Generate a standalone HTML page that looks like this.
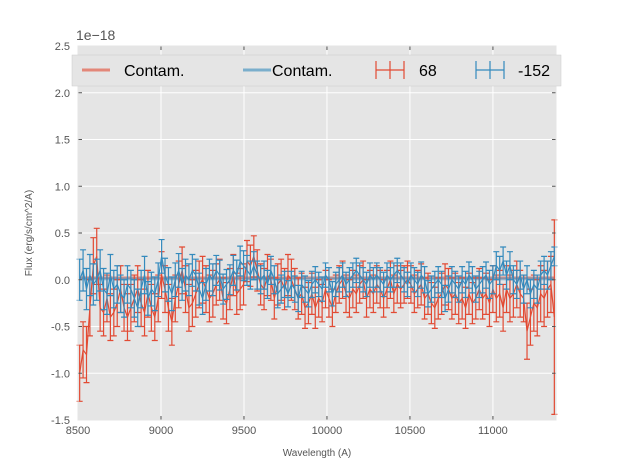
<!DOCTYPE html>
<html><head><meta charset="utf-8"><style>
body{margin:0;background:#fff;width:617px;height:467px;overflow:hidden;font-family:"Liberation Sans",sans-serif}
</style></head><body>
<svg id="chart" width="617" height="467" xmlns="http://www.w3.org/2000/svg">
<rect x="78" y="46" width="478" height="374" fill="#e5e5e5"/>
<g id="grid"></g><g id="series"></g><g id="axes"></g>
<text x="76" y="40" font-size="14" fill="#555">1e−18</text>
<text x="317" y="456" font-size="10" fill="#555" text-anchor="middle">Wavelength (A)</text>
<text transform="translate(32,233) rotate(-90)" font-size="10" fill="#555" text-anchor="middle">Flux (erg/s/cm^2/A)</text>
<g>
<rect x="72" y="55" width="489" height="31" fill="#e5e5e5" stroke="#ccc" stroke-width="0.5"/>
<g><line x1="82" y1="70" x2="110" y2="70" stroke="#E24A33" stroke-width="3" opacity="0.6"/><text x="124" y="76" font-size="16" fill="#000">Contam.</text></g>
<g><line x1="243" y1="70" x2="271" y2="70" stroke="#348ABD" stroke-width="3" opacity="0.6"/><text x="272" y="76" font-size="16" fill="#000">Contam.</text></g>
<g stroke="#E24A33" stroke-width="1.2"><line x1="376" y1="70" x2="404" y2="70"/><line x1="390" y1="61" x2="390" y2="79"/><line x1="376" y1="61" x2="376" y2="79"/><line x1="404" y1="61" x2="404" y2="79"/><text x="419" y="76" font-size="16" fill="#000" stroke="none">68</text></g>
<g stroke="#348ABD" stroke-width="1.2"><line x1="476" y1="70" x2="504" y2="70"/><line x1="490" y1="61" x2="490" y2="79"/><line x1="476" y1="61" x2="476" y2="79"/><line x1="504" y1="61" x2="504" y2="79"/><text x="518" y="76" font-size="16" fill="#000" stroke="none">-152</text></g>
</g>
</svg>
<script>
const xTicks=[8500,9000,9500,10000,10500,11000];
const yTicks=[-1.5,-1.0,-0.5,0.0,0.5,1.0,1.5,2.0,2.5];
const wlStart=8510, wlEnd=11370;
const contamRed=0.02, contamBlue=0.01;
const red=[-1.0,-0.75,-0.8,-0.3,0.15,0.25,-0.3,-0.35,-0.2,-0.4,
-0.35,-0.25,-0.1,-0.3,-0.4,-0.3,-0.2,-0.1,-0.25,-0.35,
-0.15,-0.3,-0.4,-0.2,0.05,-0.1,-0.3,-0.45,-0.2,-0.05,
0.1,-0.1,-0.3,-0.25,-0.15,-0.05,0.0,-0.1,-0.2,-0.15,
-0.05,0.0,-0.2,-0.25,-0.1,0.05,-0.15,-0.1,-0.05,0.2,
0.15,0.25,0.1,-0.05,-0.1,0.05,0.0,-0.2,-0.05,0.0,
-0.1,0.05,0.0,-0.1,-0.2,-0.15,-0.3,-0.25,-0.15,-0.3,
-0.2,-0.25,-0.1,-0.2,-0.3,-0.15,-0.05,0.0,-0.15,-0.2,
-0.1,-0.15,-0.05,0.0,-0.2,-0.1,-0.15,-0.05,-0.1,-0.2,
-0.1,0.0,-0.15,-0.05,-0.1,-0.05,0.0,-0.05,-0.15,-0.1,
-0.05,-0.2,-0.15,-0.25,-0.3,-0.2,-0.15,-0.05,-0.1,-0.2,
-0.15,-0.25,-0.2,-0.3,-0.15,-0.25,-0.2,-0.1,-0.2,-0.15,
-0.25,-0.1,-0.2,-0.15,-0.3,-0.1,-0.2,-0.15,-0.05,-0.15,
-0.2,-0.55,-0.4,-0.25,-0.3,-0.15,-0.2,-0.1,-0.05,-0.4];
const redErr=[0.3,0.3,0.3,0.3,0.3,0.3,0.25,0.25,0.25,0.25,
0.25,0.25,0.25,0.25,0.25,0.25,0.25,0.25,0.25,0.25,
0.25,0.25,0.25,0.25,0.25,0.25,0.25,0.25,0.25,0.25,
0.25,0.25,0.25,0.25,0.25,0.25,0.25,0.25,0.25,0.25,
0.22,0.22,0.22,0.22,0.22,0.22,0.22,0.22,0.22,0.22,
0.22,0.22,0.22,0.22,0.22,0.22,0.22,0.22,0.22,0.22,
0.22,0.22,0.22,0.22,0.22,0.22,0.22,0.22,0.22,0.22,
0.2,0.2,0.2,0.2,0.2,0.2,0.2,0.2,0.2,0.2,
0.2,0.2,0.2,0.2,0.2,0.2,0.2,0.2,0.2,0.2,
0.2,0.2,0.2,0.2,0.2,0.2,0.2,0.2,0.2,0.2,
0.22,0.22,0.22,0.22,0.22,0.22,0.22,0.22,0.22,0.22,
0.22,0.22,0.22,0.22,0.22,0.22,0.22,0.22,0.22,0.22,
0.25,0.25,0.25,0.25,0.25,0.25,0.25,0.25,0.25,0.25,
0.25,0.3,0.3,0.3,0.3,0.3,0.3,0.3,0.3,1.04];
const blue=[0.0,0.1,-0.1,0.05,-0.05,0.0,0.1,-0.1,-0.15,0.05,
-0.1,-0.05,-0.15,-0.2,-0.05,-0.1,-0.2,-0.3,-0.1,0.05,
-0.2,-0.1,-0.15,0.0,0.25,0.05,-0.05,-0.15,0.0,0.1,
-0.05,0.05,0.0,0.1,0.05,-0.1,-0.2,-0.05,0.05,0.0,
0.1,0.05,-0.1,-0.05,0.0,0.1,0.05,0.2,0.15,0.1,
0.05,0.15,0.05,0.0,0.05,-0.05,0.1,0.0,-0.15,-0.1,
-0.05,-0.15,-0.05,-0.1,-0.2,-0.05,-0.1,-0.15,-0.05,0.0,
-0.05,-0.1,0.05,0.0,-0.15,-0.05,0.0,0.05,-0.05,0.0,
0.05,0.1,0.05,0.0,-0.05,0.05,0.0,0.05,0.0,-0.05,
0.05,0.0,0.05,0.1,0.05,0.0,-0.05,0.05,0.0,-0.05,
0.05,0.0,-0.15,-0.1,-0.05,0.0,-0.05,-0.2,-0.1,0.0,
-0.05,-0.1,0.0,-0.05,0.05,0.0,-0.1,-0.05,0.0,0.05,
-0.05,0.0,0.15,0.1,0.2,0.05,0.15,0.0,-0.05,0.05,
-0.1,0.0,-0.15,-0.05,-0.1,0.05,0.1,0.05,0.15,0.25];
const blueErr=[0.22,0.22,0.22,0.22,0.22,0.22,0.22,0.22,0.22,0.22,
0.2,0.2,0.2,0.2,0.2,0.2,0.2,0.2,0.2,0.2,
0.18,0.18,0.18,0.18,0.18,0.18,0.18,0.18,0.18,0.18,
0.17,0.17,0.17,0.17,0.17,0.17,0.17,0.17,0.17,0.17,
0.16,0.16,0.16,0.16,0.16,0.16,0.16,0.16,0.16,0.16,
0.15,0.15,0.15,0.15,0.15,0.15,0.15,0.15,0.15,0.15,
0.14,0.14,0.14,0.14,0.14,0.14,0.14,0.14,0.14,0.14,
0.13,0.13,0.13,0.13,0.13,0.13,0.13,0.13,0.13,0.13,
0.13,0.13,0.13,0.13,0.13,0.13,0.13,0.13,0.13,0.13,
0.13,0.13,0.13,0.13,0.13,0.13,0.13,0.13,0.13,0.13,
0.14,0.14,0.14,0.14,0.14,0.14,0.14,0.14,0.14,0.14,
0.14,0.14,0.14,0.14,0.14,0.14,0.14,0.14,0.14,0.14,
0.15,0.15,0.15,0.15,0.15,0.15,0.15,0.15,0.15,0.15,
0.15,0.15,0.15,0.15,0.15,0.15,0.15,0.15,0.15,0.1];

const NS="http://www.w3.org/2000/svg";
const X0=78,X1=556,Y0=420,Y1=46;
const xMin=8500,xMax=11380,yMin=-1.5,yMax=2.5;
function xs(v){return X0+(v-xMin)/(xMax-xMin)*(X1-X0);}
function ys(v){return Y0-(v-yMin)/(yMax-yMin)*(Y0-Y1);}
function wl(i,n){return wlStart+i*(wlEnd-wlStart)/(n-1);}
function mk(tag,attrs,parent){const e=document.createElementNS(NS,tag);for(const k in attrs)e.setAttribute(k,attrs[k]);parent.appendChild(e);return e;}
const grid=document.getElementById('grid'),axes=document.getElementById('axes'),ser=document.getElementById('series');
xTicks.forEach(t=>{const x=xs(t);
 const g=mk('line',{x1:x,x2:x,y1:Y1,y2:Y0,stroke:'#fff','stroke-width':1},grid);
 
 
 mk('line',{x1:x,x2:x,y1:Y0,y2:Y0-4,stroke:'#555'},axes);
 mk('line',{x1:x,x2:x,y1:Y1,y2:Y1+4,stroke:'#555'},axes);
 const l=mk('text',{x:x,y:Y0+14,'font-size':11,fill:'#555','text-anchor':'middle'},axes);l.textContent=t;
 
 });
yTicks.forEach(t=>{const y=ys(t);
 const g=mk('line',{x1:X0,x2:X1,y1:y,y2:y,stroke:'#fff','stroke-width':1},grid);
 
 
 mk('line',{x1:X0,x2:X0+4,y1:y,y2:y,stroke:'#555'},axes);
 mk('line',{x1:X1,x2:X1-4,y1:y,y2:y,stroke:'#555'},axes);
 const l=mk('text',{x:X0-8,y:y+4,'font-size':11,fill:'#555','text-anchor':'end'},axes);l.textContent=t.toFixed(1);
 
 });
function contam(v,color,name){const l=mk('line',{x1:xs(wlStart),x2:xs(wlEnd),y1:ys(v),y2:ys(v),stroke:color,'stroke-width':3,opacity:0.5},ser);
 
 }
function series(vals,errs,color,name){const n=vals.length;const g=mk('g',{stroke:color,'stroke-width':1.2,fill:'none'},ser);
 
 
 let d='';vals.forEach((v,i)=>{const x=xs(wl(i,n));d+=(i?'L':'M')+x.toFixed(1)+','+ys(v).toFixed(1);
  const yt=ys(v+errs[i]),yb=ys(v-errs[i]);
  const eb=mk('path',{d:`M${x},${yt}V${yb}M${x-3},${yt}h6M${x-3},${yb}h6`},g);
  
  });
 const p=mk('path',{d:d},g);
 
 }
contam(contamRed,'#E24A33','contam-red-line');
contam(contamBlue,'#348ABD','contam-blue-line');
series(red,redErr,'#E24A33','series-68');
series(blue,blueErr,'#348ABD','series-minus152');
mk('rect',{x:X0,y:Y1,width:X1-X0,height:Y0-Y1,fill:'none',stroke:'#e5e5e5'},axes);
</script>
</body></html>
